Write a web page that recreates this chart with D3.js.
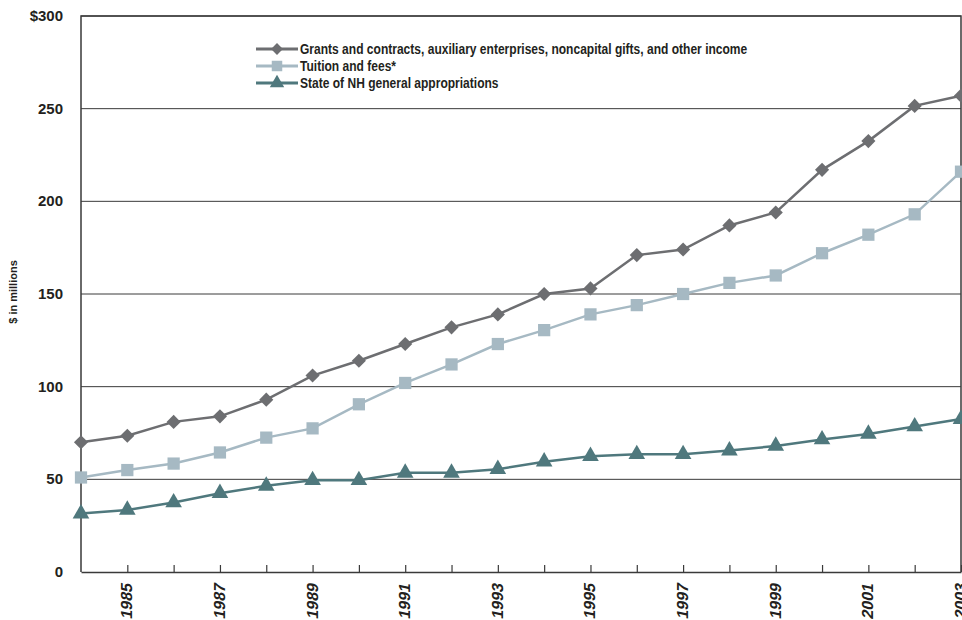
<!DOCTYPE html>
<meta charset="utf-8">
<style>
  body { margin: 0; background: #fff; }
  text { font-family: "Liberation Sans Narrow", "Liberation Sans", sans-serif; font-weight: bold; fill: #231f20; }
</style>
<svg width="962" height="620"></svg>
<script src="https://d3js.org/d3.v7.min.js"></script>
<script>

    var years = d3.range(1984, 2004)
    var grants = [70, 73.5, 81, 84, 93, 106, 114, 123, 132, 139, 150, 153, 171, 174, 187, 194, 217, 232.5, 251.5, 257]
    var tuition = [51, 55, 58.5, 64.5, 72.5, 77.5, 90.5, 102, 112, 123, 130.5, 139, 144, 150, 156, 160, 172, 182, 193, 216]
    var state = [31.5, 33.5, 37.5, 42.5, 46.5, 49.5, 49.5, 53.5, 53.5, 55.5, 59.5, 62.5, 63.5, 63.5, 65.5, 68, 71.5, 74.5, 78.5, 82.5]
    var yTicks = [0, 50, 100, 150, 200, 250, 300]
    var xLabels = [1985, 1987, 1989, 1991, 1993, 1995, 1997, 1999, 2001, 2003]

    // diamond = square turned 45 degrees
    var series = [
        {name: 'Grants and contracts, auxiliary enterprises, noncapital gifts, and other income', values: grants, color: '#6d6e71', shape: d3.symbolSquare, rot: 45, size: 100, lsize: 70},
        {name: 'Tuition and fees*', values: tuition, color: '#a6b9c3', shape: d3.symbolSquare, rot: 0, size: 150, lsize: 110},
        {name: 'State of NH general appropriations', values: state, color: '#4f787d', shape: d3.symbolTriangle, rot: 0, size: 120, lsize: 90}
    ]

    var svg = d3.select('svg')
    var pLeft = 81, pRight = 961, pTop = 16, pBottom = 572

    var x = d3.scaleLinear().domain([1984, 2003]).range([pLeft, pRight])
    var y = d3.scaleLinear().domain([0, 300]).range([pBottom, pTop])

    // grid lines
    svg.append('g')
        .selectAll('line')
        .data(yTicks.filter(d => d > 0))
        .enter().append('line')
        .attr('x1', pLeft).attr('x2', pRight)
        .attr('y1', d => y(d)).attr('y2', d => y(d))
        .attr('stroke', '#3a3a3a').attr('stroke-width', 1)

    // frame
    svg.append('path')
        .attr('d', 'M' + pLeft + ',' + pBottom + 'V' + pTop + 'H' + pRight + 'V' + pBottom)
        .attr('fill', 'none').attr('stroke', '#3a3a3a').attr('stroke-width', 1.5)

    // x axis with inward ticks
    var xAxis = svg.append('g')
        .attr('transform', 'translate(0,' + pBottom + ')')
        .call(d3.axisBottom(x).tickValues(years.slice(1)).tickSizeInner(-7).tickSizeOuter(0).tickFormat(''))
    xAxis.select('.domain').attr('stroke', '#3a3a3a').attr('stroke-width', 1.5)
    xAxis.selectAll('.tick line').attr('stroke', '#3a3a3a').attr('stroke-width', 1.2)

    svg.append('g')
        .selectAll('text')
        .data(xLabels)
        .enter().append('text')
        .attr('transform', d => 'translate(' + (x(d) + 5) + ',' + (pBottom + 12) + ') rotate(-90) skewX(-12)')
        .attr('text-anchor', 'end')
        .attr('font-size', 16)
        .text(d => d)

    // y labels
    svg.append('g')
        .selectAll('text')
        .data(yTicks)
        .enter().append('text')
        .attr('x', 63)
        .attr('y', d => y(d) + 5)
        .attr('text-anchor', 'end')
        .attr('font-size', 15)
        .text(d => d === 300 ? '$300' : d)

    svg.append('text')
        .attr('transform', 'translate(17,292) rotate(-90)')
        .attr('text-anchor', 'middle')
        .attr('font-size', 11)
        .text('$ in millions')

    var line = d3.line().x((d, i) => x(years[i])).y(d => y(d))

    series.forEach(function (s) {
        svg.append('path')
            .attr('d', line(s.values))
            .attr('fill', 'none')
            .attr('stroke', s.color)
            .attr('stroke-width', 2.5)
        svg.append('g')
            .selectAll('path')
            .data(s.values)
            .enter().append('path')
            .attr('d', d3.symbol().type(s.shape).size(s.size))
            .attr('transform', (d, i) => 'translate(' + x(years[i]) + ',' + y(d) + ') rotate(' + s.rot + ')')
            .attr('fill', s.color)
    })

    // legend
    var legend = svg.append('g').attr('transform', 'translate(256,49)')
    series.forEach(function (s, i) {
        var g = legend.append('g').attr('transform', 'translate(0,' + i * 17 + ')')
        g.append('line').attr('x1', 0).attr('x2', 42).attr('stroke', s.color).attr('stroke-width', 3)
        g.append('path')
            .attr('d', d3.symbol().type(s.shape).size(s.lsize))
            .attr('transform', 'translate(21,0) rotate(' + s.rot + ')')
            .attr('fill', s.color)
        g.append('text').attr('transform', 'translate(44,5) scale(0.86,1)').attr('font-size', 14).text(s.name)
    })

</script>
